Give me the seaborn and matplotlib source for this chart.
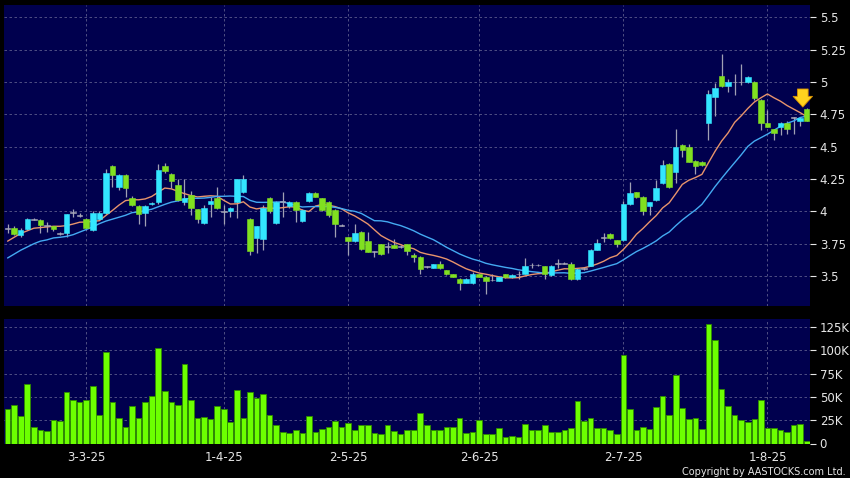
import numpy as np
import pandas as pd
import seaborn as sns
import matplotlib.pyplot as plt

# daily candles (price in HKD, volume in thousands)
opens = [3.87, 3.872, 3.82, 3.867, 3.94, 3.93, 3.893, 3.888, 3.83, 3.836,
         3.99, 3.97, 3.94, 3.86, 3.945, 3.99, 4.35, 4.19, 4.28, 4.107,
         4.044, 3.985, 4.055, 4.07, 4.35, 4.289, 4.206, 4.075, 4.128, 4.016,
         3.91, 4.06, 4.10, 4.0, 4.0, 4.07, 4.15, 3.945, 3.797, 3.789,
         4.10, 3.914, 4.075, 4.04, 4.075, 3.927, 4.083, 4.14, 4.10, 4.07,
         4.01, 3.893, 3.80, 3.768, 3.84, 3.77, 3.69, 3.747, 3.73, 3.737,
         3.73, 3.747, 3.66, 3.65, 3.573, 3.565, 3.59, 3.545, 3.516, 3.48,
         3.45, 3.443, 3.516, 3.495, 3.47, 3.464, 3.516, 3.49, 3.516, 3.52,
         3.586, 3.586, 3.576, 3.51, 3.60, 3.60, 3.594, 3.477, 3.56, 3.58,
         3.703, 3.797, 3.828, 3.776, 3.776, 4.06, 4.148, 4.115, 4.04, 4.09,
         4.216, 4.37, 4.307, 4.51, 4.495, 4.392, 4.384, 4.686, 4.887, 5.046,
         4.972, 5.0, 5.0, 4.997, 5.0, 4.86, 4.686, 4.634, 4.655, 4.68,
         4.724, 4.70, 4.79]
closes = [3.87, 3.828, 3.86, 3.94, 3.94, 3.895, 3.893, 3.867, 3.83, 3.98,
          3.99, 3.97, 3.875, 3.99, 3.99, 4.30, 4.28, 4.28, 4.18, 4.05,
          3.98, 4.04, 4.065, 4.32, 4.31, 4.237, 4.09, 4.10, 4.03, 3.945,
          4.03, 4.08, 4.03, 4.0, 4.03, 4.25, 4.25, 3.693, 3.885, 4.03,
          4.0, 4.075, 4.075, 4.07, 4.01, 4.01, 4.14, 4.115, 4.01, 3.97,
          3.90, 3.893, 3.768, 3.836, 3.706, 3.69, 3.69, 3.67, 3.73, 3.72,
          3.73, 3.695, 3.65, 3.555, 3.573, 3.59, 3.565, 3.516, 3.495, 3.45,
          3.48, 3.52, 3.495, 3.464, 3.47, 3.49, 3.49, 3.51, 3.516, 3.58,
          3.586, 3.586, 3.52, 3.58, 3.60, 3.60, 3.477, 3.555, 3.56, 3.70,
          3.758, 3.797, 3.797, 3.75, 4.06, 4.145, 4.11, 4.005, 4.07, 4.178,
          4.358, 4.19, 4.495, 4.474, 4.384, 4.35, 4.358, 4.905, 4.95, 4.969,
          4.997, 5.0, 5.0, 5.04, 4.88, 4.68, 4.655, 4.608, 4.686, 4.634,
          4.724, 4.724, 4.70]
highs = [3.90, 3.885, 3.87, 3.95, 3.95, 3.94, 3.92, 3.89, 3.84, 3.98,
         4.02, 3.99, 3.95, 4.0, 4.0, 4.33, 4.36, 4.29, 4.29, 4.12,
         4.05, 4.05, 4.07, 4.37, 4.375, 4.30, 4.25, 4.25, 4.155, 4.02,
         4.05, 4.11, 4.19, 4.05, 4.035, 4.25, 4.285, 3.95, 3.89, 4.05,
         4.11, 4.08, 4.15, 4.08, 4.08, 4.02, 4.15, 4.15, 4.105, 4.08,
         4.02, 3.90, 3.80, 3.90, 3.85, 3.84, 3.695, 3.75, 3.765, 3.79,
         3.74, 3.75, 3.68, 3.655, 3.58, 3.595, 3.62, 3.55, 3.52, 3.485,
         3.485, 3.53, 3.52, 3.50, 3.52, 3.495, 3.52, 3.515, 3.54, 3.64,
         3.60, 3.59, 3.58, 3.585, 3.63, 3.61, 3.61, 3.56, 3.57, 3.71,
         3.79, 3.83, 3.83, 3.78, 4.08, 4.23, 4.15, 4.12, 4.075, 4.24,
         4.397, 4.375, 4.634, 4.52, 4.52, 4.40, 4.39, 4.94, 4.99, 5.216,
         5.02, 5.06, 5.14, 5.05, 5.01, 4.87, 4.78, 4.64, 4.69, 4.70,
         4.73, 4.73, 4.80]
lows = [3.83, 3.815, 3.80, 3.86, 3.93, 3.83, 3.84, 3.85, 3.82, 3.80,
        3.96, 3.96, 3.86, 3.85, 3.93, 3.98, 4.19, 4.165, 4.11, 4.04,
        3.90, 3.89, 4.05, 4.06, 4.30, 4.18, 4.08, 4.05, 3.975, 3.91,
        3.90, 3.96, 4.02, 3.90, 3.96, 3.95, 4.14, 3.66, 3.68, 3.70,
        3.99, 3.90, 3.96, 4.03, 3.92, 3.92, 4.07, 4.11, 4.0, 3.96,
        3.80, 3.885, 3.66, 3.76, 3.70, 3.69, 3.65, 3.665, 3.68, 3.72,
        3.72, 3.66, 3.61, 3.52, 3.565, 3.56, 3.555, 3.51, 3.49, 3.39,
        3.445, 3.44, 3.49, 3.36, 3.46, 3.46, 3.485, 3.485, 3.48, 3.515,
        3.56, 3.58, 3.475, 3.50, 3.565, 3.59, 3.47, 3.47, 3.55, 3.575,
        3.70, 3.76, 3.79, 3.725, 3.77, 4.05, 4.10, 3.97, 3.97, 4.08,
        4.21, 4.18, 4.22, 4.42, 4.38, 4.29, 4.35, 4.55, 4.74, 4.96,
        4.92, 4.90, 4.98, 4.99, 4.86, 4.63, 4.65, 4.55, 4.59, 4.60,
        4.60, 4.66, 4.70]
volumes = [37, 41.7, 29, 64, 17.6, 14, 13, 25, 24, 55,
           47, 44, 47, 62, 31, 98, 44, 27, 18, 40,
           27, 45, 51, 102, 56, 44, 41, 85, 47, 27,
           28, 26, 40, 37, 23, 57, 27, 55, 49, 53,
           31, 20, 12.6, 11.5, 14, 11, 30, 12, 16, 18,
           24, 18, 22, 14, 20, 20, 11, 10, 20, 13,
           10, 14, 15, 33, 20, 14, 15, 18, 18, 27,
           11, 12, 25, 10, 10, 16.5, 6.5, 8, 7, 21,
           14, 14, 20, 12, 12, 15, 17, 46, 24, 27,
           16.5, 16.5, 14, 10, 95, 37, 14, 18, 16, 39,
           51, 31, 73, 38, 26, 27, 16, 128, 111, 58,
           40, 31, 25, 23, 26, 47, 17, 17, 14, 12,
           20, 21, 3]

# moving averages at the left edge (need sessions before the window)
ma10_head = [3.77, 3.80, 3.83, 3.85, 3.87, 3.875, 3.88, 3.885, 3.885]
ma20_head = [3.64, 3.67, 3.70, 3.725, 3.75, 3.77, 3.78, 3.795, 3.80, 3.807,
             3.82, 3.84, 3.86, 3.88, 3.905, 3.925, 3.94, 3.955, 3.97]

tick_pos = [12, 33, 52, 72, 94, 116]
tick_labels = ['3-3-25', '1-4-25', '2-5-25', '2-6-25', '2-7-25', '1-8-25']
price_ticks = [3.5, 3.75, 4, 4.25, 4.5, 4.75, 5, 5.25, 5.5]
vol_ticks = [0, 25, 50, 75, 100, 125]

# colours
bg = '#00004e'
up_col = '#33e6ff'
down_col = '#80e020'
flat_col = '#a8a8b8'
wick_col = '#a0a0b4'
vol_col = '#6cff00'
ma10_col = '#e8946c'
ma20_col = '#44aaf2'
grid_col = '#5c5c8c'
txt_col = '#e6e6e6'

sns.set_theme(style='dark')
plt.rcParams['font.family'] = ['DejaVu Sans']

df = pd.DataFrame({'open': opens, 'high': highs, 'low': lows,
                   'close': closes, 'vol': volumes})
df['idx'] = np.arange(len(df))
df['ma10'] = df['close'].rolling(10).mean()
df.loc[:len(ma10_head) - 1, 'ma10'] = ma10_head
df['ma20'] = df['close'].rolling(20).mean()
df.loc[:len(ma20_head) - 1, 'ma20'] = ma20_head

fig = plt.figure(figsize=(8.5, 4.78), dpi=100, facecolor='black')
axp = fig.add_axes([4/850, 1 - 306/478, 806/850, 301/478])
axv = fig.add_axes([4/850, 1 - 443.5/478, 806/850, 124.5/478])

# price panel: wicks, moving averages, candle bodies
axp.vlines(df['idx'], df['low'], df['high'], color=wick_col, lw=0.9, zorder=2)
sns.lineplot(data=df, x='idx', y='ma10', ax=axp, color=ma10_col, lw=1.0, zorder=3)
sns.lineplot(data=df, x='idx', y='ma20', ax=axp, color=ma20_col, lw=1.0, zorder=3)

body_h = (df['close'] - df['open']).abs()
flat = body_h < 1e-9
body_bottom = np.minimum(df['open'], df['close']) - np.where(flat, 0.003, 0)
body_h = np.where(flat, 0.006, body_h)
colors = np.where(df['close'] > df['open'], up_col,
                  np.where(df['close'] < df['open'], down_col, flat_col))
axp.bar(df['idx'], body_h, bottom=body_bottom, width=0.84, color=colors,
        edgecolor=colors, lw=0.4, zorder=4)

# last-bar marker
last = df.iloc[-1]
axp.annotate('', xy=(last['idx'] - 0.6, last['high'] - 0.015),
             xytext=(0, 17), textcoords='offset points',
             arrowprops=dict(arrowstyle='simple,head_length=0.55,head_width=1.0,tail_width=0.55',
                             fc='#ffd21e', ec='#d89000', lw=0.6, mutation_scale=14),
             zorder=6)

# volume panel
sns.barplot(data=df, x='idx', y='vol', ax=axv, native_scale=True, errorbar=None,
            color=vol_col, saturation=1, width=0.86, edgecolor='#2e8a00', linewidth=0.6)

for ax in (axp, axv):
    ax.set_facecolor(bg)
    ax.set_xlim(-0.55, 122.5)
    for s in ax.spines.values():
        s.set_visible(False)
    ax.set_xlabel('')
    ax.set_ylabel('')
    ax.set_xticks(tick_pos)
    ax.grid(True, color=grid_col, ls=(0, (3, 3)), lw=0.6)
    ax.set_axisbelow(True)
    ax.yaxis.tick_right()
    ax.tick_params(axis='y', colors=txt_col, labelsize=8.5, length=4, width=0.8,
                   direction='out', pad=3)

axp.set_ylim(3.269, 5.595)
axp.set_yticks(price_ticks)
axp.set_yticklabels([f'{t:g}' for t in price_ticks])
axp.tick_params(axis='x', length=0, labelbottom=False)

axv.set_ylim(0, 133.6)
axv.set_yticks(vol_ticks)
axv.set_yticklabels(['0'] + [f'{t}K' for t in vol_ticks[1:]])
axv.set_xticklabels(tick_labels)
axv.tick_params(axis='x', colors=txt_col, labelsize=8.5, length=3, width=0.8, pad=2.5)

fig.text(0.995, 0.002, 'Copyright by AASTOCKS.com Ltd.', color=txt_col,
         fontsize=7, ha='right', va='bottom')

plt.savefig('out.png', dpi=100, facecolor='black')
